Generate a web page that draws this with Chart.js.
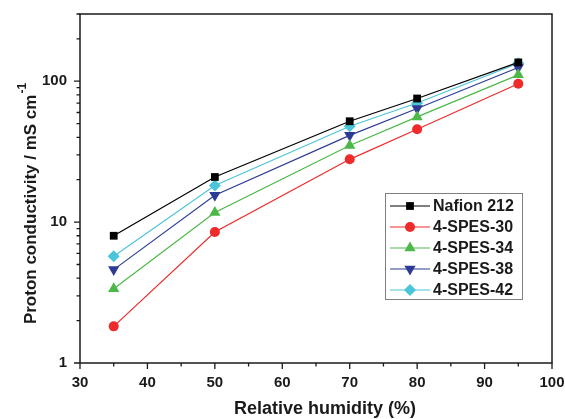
<!DOCTYPE html>
<html>
<head>
<meta charset="utf-8">
<script src="https://cdn.jsdelivr.net/npm/chart.js@4/dist/chart.umd.min.js"></script>
<style>
html,body{margin:0;padding:0;background:#fff;}
#wrap{width:565px;height:419px;position:relative;}
</style>
</head>
<body>
<div id="wrap"><canvas id="c" width="565" height="419"></canvas></div>
<script>
// ---- data ----
const humidity = [35, 50, 70, 80, 95];
const nafion212 = [8.0, 20.9, 52, 75.4, 136];
const spes30 = [1.82, 8.5, 27.9, 45.6, 96];
const spes34 = [3.37, 11.7, 35, 55.8, 111];
const spes38 = [4.6, 15.5, 41.3, 64, 125];
const spes42 = [5.73, 18.2, 47.9, 70, 134];
const seriesNames = ['Nafion 212', '4-SPES-30', '4-SPES-34', '4-SPES-38', '4-SPES-42'];
const xMajorTicks = [30, 40, 50, 60, 70, 80, 90, 100];
const xMinorTicks = [35, 45, 55, 65, 75, 85, 95];
const yMajorTicks = [1, 10, 100];
const yMinorTicks = [2, 3, 4, 5, 6, 7, 8, 9, 20, 30, 40, 50, 60, 70, 80, 90, 200, 300];
const xTitle = 'Relative humidity (%)';
const yTitle = 'Proton conductivity / mS cm';
const yTitleSup = '-1';

const FONT = "'Liberation Sans', Arial, Helvetica, sans-serif";
const colors = ['#000000', '#ee2a2a', '#4db84a', '#2e3b96', '#4cc4da'];
const styles = [
  {pointStyle: 'rect', radius: 5.5, rotation: 0},
  {pointStyle: 'circle', radius: 5, rotation: 0},
  {pointStyle: 'triangle', radius: 6.5, rotation: 0},
  {pointStyle: 'triangle', radius: 6.5, rotation: 180},
  {pointStyle: 'rectRot', radius: 6, rotation: 0}
];
const allSeries = [nafion212, spes30, spes34, spes38, spes42];

const datasets = allSeries.map((vals, i) => ({
  label: seriesNames[i],
  data: humidity.map((h, j) => ({x: h, y: vals[j]})),
  borderColor: colors[i],
  backgroundColor: colors[i],
  borderWidth: 1.2,
  pointStyle: styles[i].pointStyle,
  pointRadius: styles[i].radius,
  pointRotation: styles[i].rotation,
  pointBorderWidth: 0,
  pointBackgroundColor: colors[i],
  showLine: true,
  tension: 0
}));

function drawMarker(ctx, style, color, x, y) {
  ctx.save();
  ctx.fillStyle = color;
  ctx.beginPath();
  const r = style.radius;
  if (style.pointStyle === 'rect') {
    const h = r / Math.SQRT2;
    ctx.rect(x - h, y - h, 2 * h, 2 * h);
  } else if (style.pointStyle === 'circle') {
    ctx.arc(x, y, r, 0, Math.PI * 2);
  } else if (style.pointStyle === 'triangle') {
    const dir = style.rotation === 180 ? -1 : 1;
    ctx.moveTo(x, y - dir * r);
    ctx.lineTo(x + r * 0.866, y + dir * r * 0.5);
    ctx.lineTo(x - r * 0.866, y + dir * r * 0.5);
    ctx.closePath();
  } else if (style.pointStyle === 'rectRot') {
    ctx.moveTo(x, y - r);
    ctx.lineTo(x + r, y);
    ctx.lineTo(x, y + r);
    ctx.lineTo(x - r, y);
    ctx.closePath();
  }
  ctx.fill();
  ctx.restore();
}

const framePlugin = {
  id: 'framePlugin',
  afterDraw(chart) {
    const ctx = chart.ctx;
    const a = chart.chartArea;
    const xs = chart.scales.x, ys = chart.scales.y;
    ctx.save();
    ctx.strokeStyle = '#1a1a1a';
    ctx.lineWidth = 1.5;
    ctx.strokeRect(a.left, a.top, a.right - a.left, a.bottom - a.top);
    ctx.lineWidth = 1.3;
    ctx.beginPath();
    xMajorTicks.forEach(v => { const p = xs.getPixelForValue(v); ctx.moveTo(p, a.bottom); ctx.lineTo(p, a.bottom + 6); });
    xMinorTicks.forEach(v => { const p = xs.getPixelForValue(v); ctx.moveTo(p, a.bottom); ctx.lineTo(p, a.bottom + 3.5); });
    yMajorTicks.forEach(v => { const p = ys.getPixelForValue(v); ctx.moveTo(a.left, p); ctx.lineTo(a.left - 6, p); });
    yMinorTicks.forEach(v => { const p = ys.getPixelForValue(v); ctx.moveTo(a.left, p); ctx.lineTo(a.left - 3.5, p); });
    ctx.stroke();

    // axis titles
    ctx.fillStyle = '#1a1a1a';
    ctx.font = 'bold 18px ' + FONT;
    ctx.textAlign = 'center';
    ctx.textBaseline = 'middle';
    ctx.fillText(xTitle, 325, 409);

    ctx.save();
    ctx.translate(31, 204);
    ctx.rotate(-Math.PI / 2);
    ctx.font = 'bold 17px ' + FONT;
    const mainW = ctx.measureText(yTitle).width;
    ctx.font = 'bold 12px ' + FONT;
    const supW = ctx.measureText(yTitleSup).width;
    const total = mainW + supW;
    ctx.textAlign = 'left';
    ctx.font = 'bold 17px ' + FONT;
    ctx.fillText(yTitle, -total / 2, 0);
    ctx.font = 'bold 12px ' + FONT;
    ctx.fillText(yTitleSup, -total / 2 + mainW + 1, -8);
    ctx.restore();

    // legend
    const bx = 385, by = 193, bw = 137, bh = 106;
    ctx.fillStyle = '#ffffff';
    ctx.fillRect(bx, by, bw, bh);
    ctx.strokeStyle = '#808080';
    ctx.lineWidth = 1;
    ctx.strokeRect(bx + 0.5, by + 0.5, bw, bh);
    ctx.font = 'bold 16px ' + FONT;
    ctx.textAlign = 'left';
    ctx.textBaseline = 'middle';
    seriesNames.forEach((name, i) => {
      const y = by + 13 + i * 21;
      ctx.strokeStyle = colors[i];
      ctx.lineWidth = 1.2;
      ctx.beginPath();
      ctx.moveTo(bx + 5, y);
      ctx.lineTo(bx + 45, y);
      ctx.stroke();
      drawMarker(ctx, styles[i], colors[i], bx + 25, y);
      ctx.fillStyle = '#1a1a1a';
      ctx.fillText(name, bx + 48, y + 1);
    });
    ctx.restore();
  }
};

new Chart(document.getElementById('c'), {
  type: 'line',
  data: {datasets},
  plugins: [framePlugin],
  options: {
    responsive: false,
    animation: false,
    devicePixelRatio: 1,
    layout: {padding: {top: 14, right: 13, left: 0, bottom: 0}},
    plugins: {legend: {display: false}, tooltip: {enabled: false}, title: {display: false}},
    scales: {
      x: {
        type: 'linear',
        min: 30, max: 100,
        grid: {display: false},
        border: {display: false},
        afterBuildTicks: s => { s.ticks = xMajorTicks.map(v => ({value: v})); },
        afterFit: s => { s.height = 56; s.paddingLeft = 0; s.paddingRight = 0; },
        ticks: {
          autoSkip: false, maxRotation: 0, padding: 3,
          color: '#1a1a1a',
          font: {family: FONT, size: 15, weight: 'bold'},
          callback: v => String(v)
        }
      },
      y: {
        type: 'logarithmic',
        min: 1, max: 300,
        grid: {display: false},
        border: {display: false},
        afterBuildTicks: s => { s.ticks = yMajorTicks.map(v => ({value: v})); },
        afterFit: s => { s.width = 80; s.paddingTop = 0; s.paddingBottom = 0; },
        ticks: {
          autoSkip: false, padding: 5,
          color: '#1a1a1a',
          font: {family: FONT, size: 15, weight: 'bold'},
          callback: v => String(v)
        }
      }
    }
  }
});
</script>
</body>
</html>
